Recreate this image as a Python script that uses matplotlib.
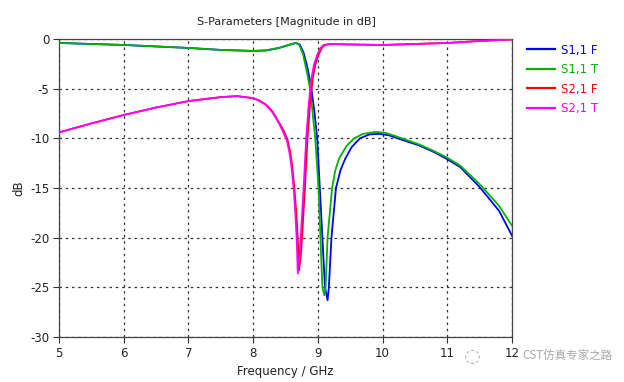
import matplotlib
matplotlib.use("Agg")
import matplotlib.pyplot as plt

# ---------------- data ----------------
s11f_freq = [5.0, 5.5, 6.0, 6.5, 7.0, 7.5, 8.0, 8.2, 8.4, 8.55, 8.66, 8.72,
             8.78, 8.84, 8.90, 8.95, 8.99, 9.03, 9.07, 9.11, 9.15, 9.17, 9.21,
             9.28, 9.35, 9.42, 9.52, 9.65, 9.8, 9.95, 10.1, 10.3, 10.56,
             10.8, 11.0, 11.2, 11.5, 11.8, 12.0]
s11f_db = [-0.4, -0.5, -0.6, -0.75, -0.9, -1.1, -1.2, -1.15, -0.9, -0.6,
           -0.4, -0.55, -1.4, -2.9, -5.0, -7.5, -10.0, -15.0, -20.0, -25.0,
           -26.3, -25.0, -20.0, -15.0, -13.2, -12.1, -10.9, -10.0, -9.6,
           -9.55, -9.7, -10.15, -10.7, -11.4, -12.1, -12.9, -14.9, -17.3,
           -19.8]

s11t_freq = [5.0, 5.5, 6.0, 6.5, 7.0, 7.5, 8.0, 8.2, 8.4, 8.55, 8.65, 8.71,
             8.77, 8.82, 8.88, 8.92, 8.96, 9.01, 9.04, 9.07, 9.10, 9.12, 9.15,
             9.22, 9.27, 9.33, 9.44, 9.56, 9.7, 9.89, 10.05, 10.3, 10.56,
             10.8, 11.0, 11.2, 11.5, 11.8, 12.0]
s11t_db = [-0.4, -0.5, -0.6, -0.75, -0.9, -1.1, -1.2, -1.15, -0.9, -0.6,
           -0.4, -0.55, -1.5, -3.0, -5.0, -7.5, -10.0, -15.0, -20.0, -25.0,
           -25.8, -25.0, -20.0, -15.0, -13.2, -12.0, -10.8, -10.0, -9.55,
           -9.35, -9.45, -10.0, -10.6, -11.3, -11.95, -12.75, -14.6, -16.8,
           -18.8]

s21f_freq = [5.0, 5.5, 6.0, 6.5, 7.0, 7.5, 7.75, 8.0, 8.1, 8.2, 8.3, 8.4,
             8.47, 8.53, 8.57, 8.60, 8.64, 8.67, 8.69, 8.71, 8.74, 8.76, 8.80,
             8.84, 8.88, 8.92, 8.96, 9.01, 9.06, 9.11, 9.2, 9.5, 10.0, 10.5,
             11.0, 11.5, 12.0]
s21f_db = [-9.4, -8.5, -7.65, -6.9, -6.25, -5.85, -5.75, -5.95, -6.2, -6.6,
           -7.3, -8.4, -9.2, -10.1, -11.3, -12.6, -15.2, -17.8, -20.2, -23.3,
           -21.5, -19.5, -15.0, -10.0, -6.5, -4.0, -2.6, -1.6, -0.9, -0.6,
           -0.5, -0.55, -0.6, -0.5, -0.4, -0.2, -0.05]

s21t_freq = [5.0, 5.5, 6.0, 6.5, 7.0, 7.5, 7.75, 8.0, 8.1, 8.2, 8.3, 8.4,
             8.46, 8.52, 8.56, 8.59, 8.63, 8.655, 8.675, 8.69, 8.72, 8.74,
             8.78, 8.82, 8.86, 8.90, 8.94, 8.99, 9.04, 9.09, 9.2, 9.5, 10.0,
             10.5, 11.0, 11.5, 12.0]
s21t_db = [-9.4, -8.5, -7.65, -6.9, -6.25, -5.85, -5.75, -5.95, -6.25, -6.65,
           -7.4, -8.5, -9.3, -10.2, -11.4, -12.7, -15.3, -17.9, -20.4, -23.6,
           -21.5, -19.5, -15.0, -10.0, -6.5, -4.0, -2.6, -1.6, -0.9, -0.6,
           -0.5, -0.55, -0.6, -0.5, -0.4, -0.2, -0.05]

series_labels = ["S1,1 F", "S1,1 T", "S2,1 F", "S2,1 T"]
series_colors = ["#0000ff", "#00b400", "#ff0000", "#ff00ff"]

x_ticks = [5, 6, 7, 8, 9, 10, 11, 12]
y_ticks = [0, -5, -10, -15, -20, -25, -30]

# ---------------- figure ----------------
plt.rcParams['font.family'] = ['DejaVu Sans', 'Noto Sans CJK SC']
fig = plt.figure(figsize=(6.24, 3.82), dpi=100)
ax = fig.add_axes([59 / 624, 1 - 337 / 382, (512 - 59) / 624, (337 - 39) / 382])

data = [(s11f_freq, s11f_db), (s11t_freq, s11t_db),
        (s21f_freq, s21f_db), (s21t_freq, s21t_db)]
handles = []
for (f, d), lab, col in zip(data, series_labels, series_colors):
    h, = ax.plot(f, d, color=col, lw=1.3, label=lab, zorder=3)
    handles.append(h)

ax.set_xlim(5, 12)
ax.set_ylim(-30, 0)
ax.set_xticks(x_ticks)
ax.set_yticks(y_ticks)
ax.set_xticklabels([str(t) for t in x_ticks])
ax.set_yticklabels([str(t) for t in y_ticks])
ax.grid(True, color="#333333", linestyle=(0, (2, 3)), linewidth=0.9)
ax.tick_params(direction="out", length=4, width=0.8, colors="#333333",
               labelcolor="#222222", labelsize=8.5, pad=3)
for sp in ax.spines.values():
    sp.set_color("#444444")
    sp.set_linewidth(0.9)

fig.text(286 / 624, 1 - 22 / 382, "S-Parameters [Magnitude in dB]",
         ha="center", va="center", fontsize=8, color="#222222")
fig.text(285.5 / 624, 1 - 371 / 382, "Frequency / GHz",
         ha="center", va="center", fontsize=8.5, color="#222222")
fig.text(19 / 624, 1 - 188 / 382, "dB", rotation=90,
         ha="center", va="center", fontsize=8.5, color="#222222")

leg = fig.legend(handles=handles, loc="upper left",
                 bbox_to_anchor=(516 / 624, 1 - 33 / 382), frameon=False,
                 fontsize=8.5, handlelength=2.4, handletextpad=0.5,
                 labelspacing=0.55, labelcolor="linecolor")
for ln in leg.get_lines():
    ln.set_linewidth(1.6)

# watermark
fig.text(522 / 624, 1 - 356 / 382, "CST仿真专家之路",
         ha="left", va="center", fontsize=8.3, color="#a8a8a8",
         family=['Noto Sans CJK SC', 'DejaVu Sans'], zorder=10)
fig.text(472 / 624, 1 - 356 / 382, "◌", ha="center", va="center",
         fontsize=14, color="#b8b8b8", zorder=10)

fig.savefig("out.png", dpi=100, facecolor="white")
